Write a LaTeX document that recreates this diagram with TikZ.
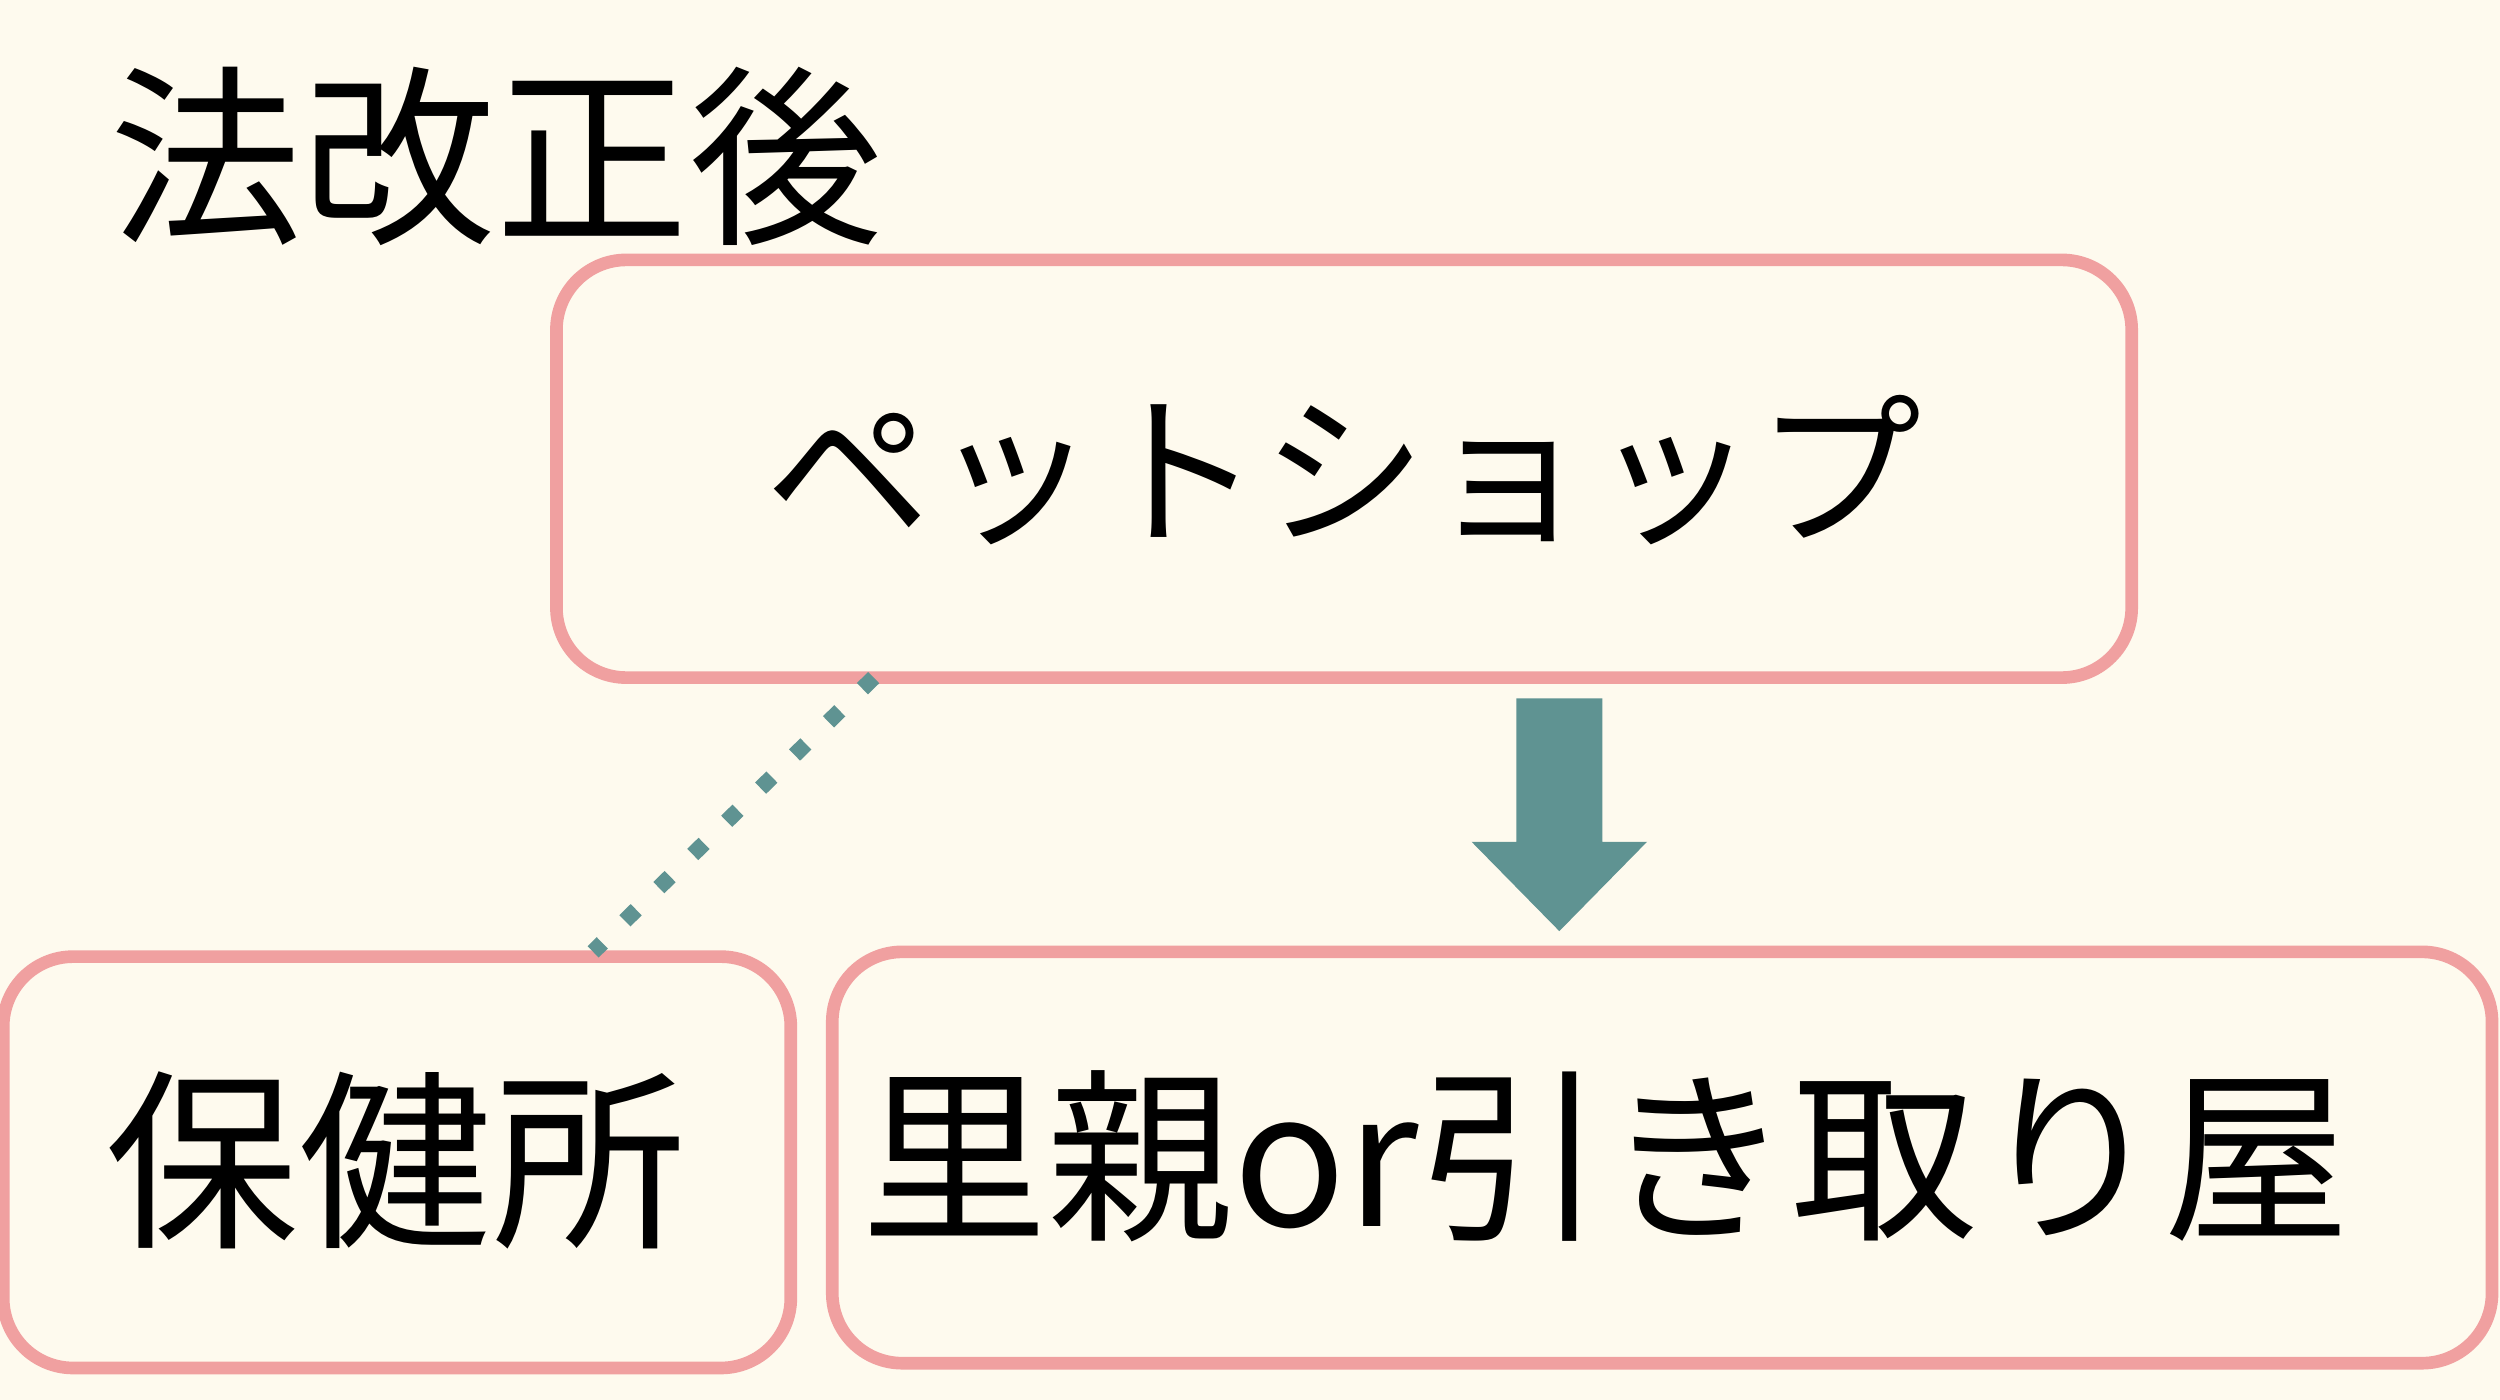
\documentclass[tikz,border=0pt]{standalone}
\usepackage{fontspec}
\setmainfont{Noto Sans CJK JP}
\usetikzlibrary{positioning}
\definecolor{bgcream}{HTML}{FEFAEE}
\definecolor{boxpink}{HTML}{F0A0A0}
\definecolor{arrowteal}{HTML}{5F9392}
\tikzset{
  box/.style = {draw=boxpink, line width=3.6pt, rounded corners=0.7cm, fill=bgcream},
  label/.style = {inner sep=0, font=\fontsize{46}{50}\selectfont},
  biglabel/.style = {label, font=\fontsize{55}{60}\selectfont},
  dotline/.style = {draw=arrowteal, line width=4.5pt, dash pattern=on 4.5pt off 9pt}
}
\begin{document}
\begin{tikzpicture}[x=0.01594cm, y=-0.01594cm]
\fill[bgcream] (0,0) rectangle (1568,878);
\useasboundingbox (0,0) rectangle (1568,878);

% boxes
\draw[box] (349,163) rectangle (1337,425);
\draw[box] (2,600) rectangle (496,858);
\draw[box] (522,597) rectangle (1563,855);

% texts
\node[biglabel] (title) at (311,98) {法改正後};
\node[label, font=\fontsize{47}{50}\selectfont] (shop) at (843,295) {ペットショップ};
\node[biglabel] (hoken) at (248,728) {保健所};
\node[biglabel, font=\fontsize{53}{58}\selectfont] (satooya) at (1007,725) {里親or引き取り屋};

\coordinate (shopcorner) at (548,425);
\coordinate (hokentop) at (372,597);
\path[dotline] (shopcorner) -- (hokentop);

% block arrow
\fill[arrowteal] (951,438) -- (1005,438) -- (1005,528) -- (1033,528)
  -- (978,584) -- (923,528) -- (951,528) -- cycle;
\end{tikzpicture}
\end{document}
